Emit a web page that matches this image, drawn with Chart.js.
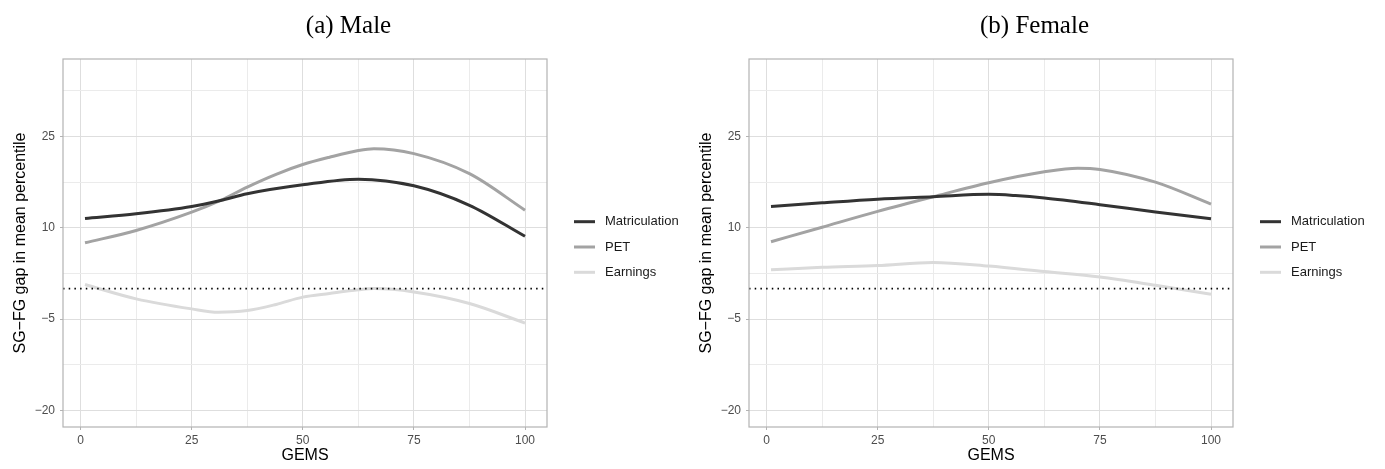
<!DOCTYPE html>
<html><head><meta charset="utf-8">
<script src="https://cdn.jsdelivr.net/npm/chart.js@4"></script>
<style>
html,body{margin:0;padding:0;background:#fff;width:1385px;height:469px;overflow:hidden}
.p{position:absolute;top:0;width:686px;height:469px}
</style></head><body>
<div class="p" style="left:0"><canvas id="c1" width="686" height="469"></canvas></div>
<div class="p" style="left:686px"><canvas id="c2" width="686" height="469"></canvas></div>
<script>
// ---- data ----
const seriesNames = ['Matriculation', 'PET', 'Earnings'];
const panelTitles = ['(a) Male', '(b) Female'];
const xTicks = [0, 25, 50, 75, 100];
const xMinor = [12.5, 37.5, 62.5, 87.5];
const yTicks = [-20, -5, 10, 25];
const yMinor = [-12.5, 2.5, 17.5, 32.5];
const refLine = 0;

const maleMatX  = [1, 12.5, 25, 31.5, 37.5, 50, 62.5, 75, 87.5, 100];
const maleMatY  = [11.53, 12.3, 13.5, 14.5, 15.6, 17.07, 18.0, 16.9, 13.7, 8.6];
const malePetX  = [1, 12.5, 25, 31.5, 37.5, 44, 50, 56, 62.5, 66, 75, 87.5, 100];
const malePetY  = [7.53, 9.56, 12.57, 14.5, 16.7, 18.8, 20.4, 21.6, 22.7, 23.0, 22.2, 18.9, 12.9];
const maleEarnX = [1, 12.5, 25, 31, 37.5, 44, 50, 56, 62.5, 66, 75, 87.5, 100];
const maleEarnY = [0.67, -1.68, -3.33, -3.88, -3.6, -2.6, -1.4, -0.8, -0.2, 0, -0.55, -2.45, -5.66];

const femMatX  = [1, 12.5, 25, 37.5, 50, 56, 62.5, 75, 87.5, 100];
const femMatY  = [13.5, 14.1, 14.7, 15.1, 15.5, 15.3, 14.9, 13.8, 12.6, 11.5];
const femPetX  = [1, 12.5, 25, 37.5, 50, 62.5, 70, 75, 87.5, 100];
const femPetY  = [7.7, 10.1, 12.7, 15.1, 17.4, 19.2, 19.8, 19.6, 17.5, 13.9];
const femEarnX = [1, 12.5, 25, 37.5, 50, 62.5, 75, 87.5, 100];
const femEarnY = [3.1, 3.5, 3.8, 4.3, 3.7, 2.8, 1.9, 0.54, -0.94];

// ---- style ----
const lineColors = ['#333333', '#a3a3a3', '#dadada'];
const SANS = "'Liberation Sans', Arial, sans-serif";
const SERIF = "'Liberation Serif', 'Times New Roman', serif";

function fmt(v){ return v < 0 ? '\u2212' + Math.abs(v) : String(v); }

const deco = {
  id: 'deco',
  afterDatasetsDraw(chart) {
    const {ctx, chartArea: ca, scales} = chart;
    const y0 = scales.y.getPixelForValue(refLine);
    ctx.save();
    ctx.strokeStyle = '#000';
    ctx.lineWidth = 1.6;
    ctx.setLineDash([1.5, 4.2]);
    ctx.beginPath();
    ctx.moveTo(ca.left, y0);
    ctx.lineTo(ca.right, y0);
    ctx.stroke();
    ctx.setLineDash([]);
    ctx.strokeStyle = '#b3b3b3';
    ctx.lineWidth = 1.2;
    ctx.strokeRect(ca.left, ca.top, ca.right - ca.left, ca.bottom - ca.top);
    ctx.restore();
  },
  afterDraw(chart, args, opts) {
    const {ctx, chartArea: ca} = chart;
    ctx.save();
    ctx.fillStyle = '#000';
    ctx.font = '25px ' + SERIF;
    ctx.textAlign = 'center';
    ctx.textBaseline = 'alphabetic';
    ctx.fillText(opts.title, 348.5, 33);
    const cy = (ca.top + ca.bottom) / 2 + 4;
    ctx.font = '13px ' + SANS;
    ctx.textAlign = 'left';
    ctx.textBaseline = 'middle';
    chart.data.datasets.forEach((ds, i) => {
      const y = cy + (i - 1) * 25.3;
      ctx.strokeStyle = ds.borderColor;
      ctx.lineWidth = 3;
      ctx.beginPath();
      ctx.moveTo(ca.right + 27, y);
      ctx.lineTo(ca.right + 48, y);
      ctx.stroke();
      ctx.fillStyle = '#1a1a1a';
      ctx.fillText(ds.label, ca.right + 58, y);
    });
    ctx.restore();
  }
};

function makeChart(id, title, xs, ys) {
  const datasets = seriesNames.map((name, i) => ({
    label: name,
    data: xs[i].map((x, j) => ({x: x, y: ys[i][j]})),
    borderColor: lineColors[i],
    borderWidth: 3,
    pointRadius: 0,
    cubicInterpolationMode: 'monotone',
    fill: false,
    order: i
  }));
  new Chart(document.getElementById(id), {
    type: 'line',
    data: {datasets: datasets},
    options: {
      responsive: false,
      animation: false,
      devicePixelRatio: 1,
      layout: {padding: {left: 0, right: 139, top: 59, bottom: 0}},
      plugins: {legend: {display: false}, tooltip: {enabled: false}, title: {display: false}, deco: {title: title}},
      scales: {
        x: {
          type: 'linear', min: -3.95, max: 104.95,
          afterBuildTicks: sc => { sc.ticks = xTicks.concat(xMinor).sort((a,b)=>a-b).map(v => ({value: v})); },
          afterFit: sc => { sc.height = 42; },
          ticks: {autoSkip: false, maxRotation: 0, padding: 3, color: '#4d4d4d',
                  font: {family: SANS, size: 12},
                  callback: v => xTicks.includes(v) ? fmt(v) : ''},
          grid: {color: c => xTicks.includes(c.tick && c.tick.value) ? '#dedede' : '#ebebeb',
                 lineWidth: 1, tickLength: 3,
                 tickColor: c => xTicks.includes(c.tick && c.tick.value) ? '#b3b3b3' : 'rgba(0,0,0,0)'},
          border: {display: false},
          title: {display: true, text: 'GEMS', color: '#000', font: {family: SANS, size: 16},
                  padding: {top: 0, bottom: 4}}
        },
        y: {
          type: 'linear', min: -22.75, max: 37.75,
          afterBuildTicks: sc => { sc.ticks = yTicks.concat(yMinor).sort((a,b)=>a-b).map(v => ({value: v})); },
          afterFit: sc => { sc.width = 63; },
          ticks: {autoSkip: false, padding: 5, color: '#4d4d4d',
                  font: {family: SANS, size: 12},
                  callback: v => yTicks.includes(v) ? fmt(v) : ''},
          grid: {color: c => yTicks.includes(c.tick && c.tick.value) ? '#dedede' : '#ebebeb',
                 lineWidth: 1, tickLength: 3,
                 tickColor: c => yTicks.includes(c.tick && c.tick.value) ? '#b3b3b3' : 'rgba(0,0,0,0)'},
          border: {display: false},
          title: {display: true, text: 'SG\u2212FG gap in mean percentile', color: '#000',
                  font: {family: SANS, size: 16}, padding: {top: 11, bottom: 0}}
        }
      }
    },
    plugins: [deco]
  });
}

makeChart('c1', panelTitles[0], [maleMatX, malePetX, maleEarnX], [maleMatY, malePetY, maleEarnY]);
makeChart('c2', panelTitles[1], [femMatX, femPetX, femEarnX], [femMatY, femPetY, femEarnY]);
</script>
</body></html>
